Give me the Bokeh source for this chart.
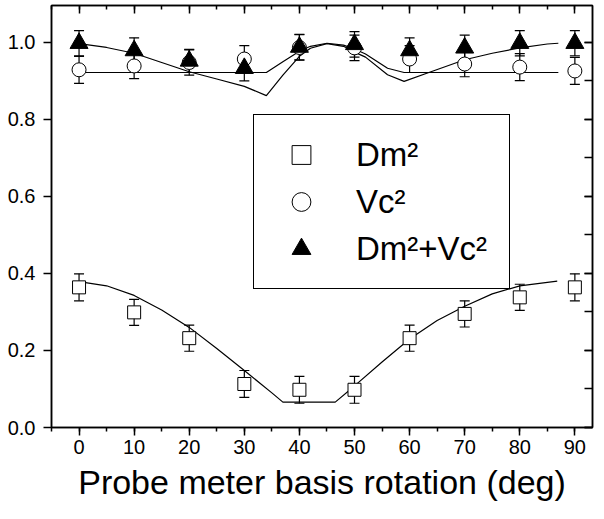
from bokeh.plotting import figure
from bokeh.models import (Range1d, LinearAxis, SingleIntervalTicker, ColumnDataSource,
                          Whisker, TeeHead, Legend, LegendItem, PrintfTickFormatter,
                          CustomLabelingPolicy)
from bokeh.embed import file_html
from bokeh.resources import INLINE

# ---- data ----
angles = [0, 10, 20, 30, 40, 50, 60, 70, 80, 90]

dm2 = [0.364, 0.299, 0.232, 0.113, 0.098, 0.098, 0.232, 0.295, 0.338, 0.364]
dm2_err = [0.035, 0.034, 0.034, 0.035, 0.035, 0.035, 0.034, 0.034, 0.034, 0.035]

vc2 = [0.929, 0.939, 0.948, 0.957, 0.987, 0.986, 0.957, 0.944, 0.936, 0.926]
vc2_err = [0.035, 0.033, 0.033, 0.035, 0.033, 0.033, 0.035, 0.033, 0.035, 0.035]

sum2 = [0.998, 0.979, 0.952, 0.933, 0.988, 0.995, 0.979, 0.986, 0.998, 0.998]
sum2_err = [0.033, 0.033, 0.030, 0.033, 0.033, 0.033, 0.033, 0.033, 0.033, 0.033]

dm2_fit_x = [0, 5, 10, 15, 20, 25, 30, 35, 37, 46.5, 50, 55, 60, 65, 70, 75, 80, 86.8]
dm2_fit_y = [0.379, 0.368, 0.343, 0.305, 0.260, 0.205, 0.148, 0.090, 0.066, 0.066,
             0.108, 0.170, 0.230, 0.278, 0.315, 0.347, 0.368, 0.380]

vc2_fit_x = [0, 34, 37, 40, 42, 45, 48, 50, 52, 56, 59, 87]
vc2_fit_y = [0.922, 0.922, 0.950, 0.977, 0.990, 0.998, 0.993, 0.983, 0.970, 0.933, 0.922, 0.922]

sum2_fit_x = [0, 5, 10, 15, 20, 25, 30, 34, 37, 40, 42, 45, 48, 50, 52, 56, 59, 63.5,
              70, 75, 80, 85, 87]
sum2_fit_y = [0.997, 0.987, 0.972, 0.948, 0.924, 0.905, 0.886, 0.862, 0.915, 0.964, 0.985,
              0.997, 0.990, 0.975, 0.962, 0.916, 0.899, 0.922, 0.955, 0.972, 0.986, 0.996, 0.998]

x_ticks_interval = 10
y_ticks_interval = 0.2
x_label = "Probe meter basis rotation (deg)"
labels = ["Dm\u00b2", "Vc\u00b2", "Dm\u00b2+Vc\u00b2"]

FONT = "Liberation Sans"


def src(xs, ys, errs):
    return ColumnDataSource(dict(
        x=xs, y=ys,
        upper=[a + e for a, e in zip(ys, errs)],
        lower=[a - e for a, e in zip(ys, errs)],
    ))


p = figure(width=596, height=503,
           x_range=Range1d(-5, 93.2), y_range=Range1d(0, 1.096),
           output_backend="svg", toolbar_location=None,
           min_border_left=51, min_border_right=0, min_border_top=5, min_border_bottom=0)
p.background_fill_color = "white"
p.border_fill_color = "white"
p.outline_line_color = "black"
p.outline_line_width = 1.5
p.xgrid.visible = False
p.ygrid.visible = False

# ---- axes ----
xa = p.xaxis[0]
xa.ticker = SingleIntervalTicker(interval=x_ticks_interval, num_minor_ticks=2)
xa.major_tick_out = 8
xa.major_tick_in = 0
xa.minor_tick_out = 4
xa.minor_tick_in = 0
xa.axis_line_width = 1.5
xa.major_tick_line_width = 1.5
xa.minor_tick_line_width = 1.5
xa.major_label_text_font = FONT
xa.major_label_text_font_size = "20px"
xa.major_label_text_color = "black"
xa.major_label_standoff = 4
xa.axis_label = x_label
xa.axis_label_text_font = FONT
xa.axis_label_text_font_size = "34px"
xa.axis_label_text_font_style = "normal"
xa.axis_label_text_color = "black"
xa.axis_label_standoff = 6

ya = p.yaxis[0]
ya.ticker = SingleIntervalTicker(interval=y_ticks_interval, num_minor_ticks=2)
ya.formatter = PrintfTickFormatter(format="%.1f")
ya.major_tick_out = 8
ya.major_tick_in = 0
ya.minor_tick_out = 0
ya.minor_tick_in = 0
ya.axis_line_width = 1.5
ya.major_tick_line_width = 1.5
ya.major_label_text_font = FONT
ya.major_label_text_font_size = "20px"
ya.major_label_text_color = "black"
ya.major_label_standoff = 8

top = LinearAxis(ticker=SingleIntervalTicker(interval=x_ticks_interval, num_minor_ticks=2),
                 major_tick_in=8, major_tick_out=0, minor_tick_in=4, minor_tick_out=0,
                 major_label_text_font_size="1px", major_label_standoff=0,
                 major_label_policy=CustomLabelingPolicy(code="return new Set()"),
                 axis_line_width=1.5, major_tick_line_width=1.5, minor_tick_line_width=1.5)
p.add_layout(top, "above")

right = LinearAxis(ticker=SingleIntervalTicker(interval=y_ticks_interval, num_minor_ticks=2),
                   major_tick_in=8, major_tick_out=0, minor_tick_in=8, minor_tick_out=0,
                   major_label_text_font_size="1px", major_label_standoff=0,
                   major_label_policy=CustomLabelingPolicy(code="return new Set()"),
                   axis_line_width=1.5, major_tick_line_width=1.5, minor_tick_line_width=1.5)
p.add_layout(right, "right")

# ---- fit curves ----
p.line(dm2_fit_x, dm2_fit_y, line_color="black", line_width=1.2)
p.line(vc2_fit_x, vc2_fit_y, line_color="black", line_width=1.2)
p.line(sum2_fit_x, sum2_fit_y, line_color="black", line_width=1.2)

# ---- data ----
s_dm = src(angles, dm2, dm2_err)
s_vc = src(angles, vc2, vc2_err)
s_sum = src(angles, sum2, sum2_err)

r_dm = p.scatter("x", "y", source=s_dm, marker="square", size=13,
                 fill_color="white", line_color="black", line_width=1)
r_vc = p.scatter("x", "y", source=s_vc, marker="circle", size=14,
                 fill_color="white", line_color="black", line_width=1)
r_sum = p.scatter("x", "y", source=s_sum, marker="triangle", size=18,
                  fill_color="black", line_color="black", line_width=1)

for s in (s_dm, s_vc, s_sum):
    w = Whisker(source=s, base="x", upper="upper", lower="lower",
                line_color="black", line_width=1.2,
                upper_head=TeeHead(size=10, line_color="black", line_width=1.2),
                lower_head=TeeHead(size=10, line_color="black", line_width=1.2))
    p.add_layout(w)

legend = Legend(items=[LegendItem(label=labels[0], renderers=[r_dm]),
                       LegendItem(label=labels[1], renderers=[r_vc]),
                       LegendItem(label=labels[2], renderers=[r_sum])],
                location=(202, 138), margin=0, padding=16, spacing=0,
                glyph_width=62, glyph_height=47, label_height=47, label_width=137,
                label_standoff=24,
                label_text_font=FONT, label_text_font_size="33px", label_text_color="black",
                border_line_color="black", border_line_width=1.2, border_line_alpha=1.0,
                background_fill_color="white", background_fill_alpha=1.0)
p.add_layout(legend)

open("out.html", "w").write(file_html(p, INLINE))
